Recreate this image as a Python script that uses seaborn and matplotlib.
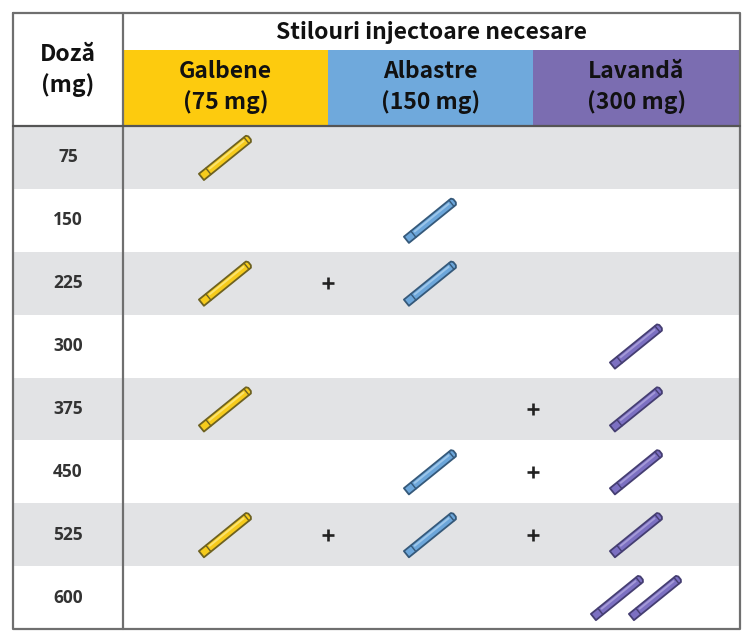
import numpy as np
import pandas as pd
import matplotlib
matplotlib.use("Agg")
import matplotlib.pyplot as plt
from matplotlib.patches import Polygon, Rectangle
from matplotlib.colors import ListedColormap
import seaborn as sns

# ---------------- data ----------------
doses = [75, 150, 225, 300, 375, 450, 525, 600]
yellow_pens = [1, 0, 1, 0, 1, 0, 1, 0]
blue_pens = [0, 1, 1, 0, 0, 1, 1, 0]
lavender_pens = [0, 0, 0, 1, 1, 1, 1, 2]
pen_names = ["Galbene", "Albastre", "Lavandă"]
pen_labels = ["(75 mg)", "(150 mg)", "(300 mg)"]
header_title = "Stilouri injectoare necesare"
dose_header = "Doză\n(mg)"

# ---------------- style ----------------
sns.set_theme(style="white")
plt.rcParams["font.family"] = ["Noto Sans CJK KR", "DejaVu Sans"]

head_colors = ["#FDCB0E", "#6FA9DC", "#7B6DB1"]
pen_fill = ["#F6CB1C", "#6CA6DA", "#7C70C2"]
pen_edge = ["#6E6220", "#35597A", "#453E72"]
pen_hi = ["#FBE36E", "#9CC6EA", "#A49AD8"]
row_gray = "#E2E3E5"
grid_col = "#6F6F6F"

W, H = 751, 641
fig = plt.figure(figsize=(W / 100, H / 100), dpi=100)

# layout (pixels)
XL, XD, XR = 13, 123, 740
col_edges = [123, 328, 533, 740]
YT, YB_band, YH, YB = 13, 50, 126, 629
n = len(doses)
rh = (YB - YH) / n

# ---- row shading via seaborn heatmap ----
shade = np.array([[1 if i % 2 == 0 else 0] for i in range(n)])
hax = fig.add_axes([XL / W, 1 - YB / H, (XR - XL) / W, (YB - YH) / H])
sns.heatmap(pd.DataFrame(shade, index=doses), ax=hax, cbar=False,
            cmap=ListedColormap(["#FFFFFF", row_gray]), vmin=0, vmax=1,
            xticklabels=False, yticklabels=False)
hax.set_axis_off()

# ---- overlay axes in pixel coordinates ----
ax = fig.add_axes([0, 0, 1, 1], facecolor="none")
ax.set_xlim(0, W)
ax.set_ylim(H, 0)
ax.set_axis_off()

# header colour bands
for i in range(3):
    ax.add_patch(Rectangle((col_edges[i], YB_band), col_edges[i + 1] - col_edges[i],
                           YH - YB_band, facecolor=head_colors[i], edgecolor="none", zorder=1))

# grid lines
lw = 1.6
ax.plot([XL, XR, XR, XL, XL], [YT, YT, YB, YB, YT], color=grid_col, lw=lw, zorder=3)
ax.plot([XD, XD], [YT, YB], color=grid_col, lw=lw, zorder=3)
ax.plot([XL, XR], [YH, YH], color="#555555", lw=lw, zorder=3)

# header text
hfs = 16.5
ax.text((XD + XR) / 2, 33, header_title, ha="center", va="center",
        fontsize=hfs, fontweight="bold", color="#111111", zorder=4)
ax.text((XL + XD) / 2, 70, dose_header, ha="center", va="center",
        fontsize=hfs, fontweight="bold", color="#111111", linespacing=1.4, zorder=4)
for i in range(3):
    cx = (col_edges[i] + col_edges[i + 1]) / 2
    ax.text(cx, 87, pen_names[i] + "\n" + pen_labels[i], ha="center",
            va="center", fontsize=hfs, fontweight="bold", color="#111111",
            linespacing=1.4, zorder=4)

# dose labels
for r, d in enumerate(doses):
    ax.text((XL + XD) / 2, YH + rh * (r + 0.5), str(d), ha="center", va="center",
            fontsize=12.5, fontweight="bold", color="#333333",
            family=["Open Sans", "DejaVu Sans"], zorder=4)


def draw_pen(cx, cy, k, L=62, Wd=8, ang=39):
    a = np.radians(ang)
    u = np.array([np.cos(a), -np.sin(a)])
    v = np.array([np.sin(a), np.cos(a)])
    c = np.array([cx, cy])

    def pt(s, t):
        return c + s * u + t * v

    body = [pt(-L / 2, -Wd / 2), pt(L / 2 - 1.5, -Wd / 2), pt(L / 2, -Wd / 4),
            pt(L / 2, Wd / 4), pt(L / 2 - 1.5, Wd / 2), pt(-L / 2, Wd / 2)]
    ax.add_patch(Polygon(body, closed=True, facecolor=pen_fill[k], edgecolor=pen_edge[k],
                         lw=1.3, joinstyle="round", zorder=5))
    # highlight stripe
    p1, p2 = pt(-L / 2 + 11, -Wd / 6), pt(L / 2 - 6, -Wd / 6)
    ax.plot([p1[0], p2[0]], [p1[1], p2[1]], color=pen_hi[k], lw=1.4,
            solid_capstyle="butt", zorder=6)
    # cap separation lines
    for s in (-L / 2 + 9, L / 2 - 4):
        q1, q2 = pt(s, -Wd / 2), pt(s, Wd / 2)
        ax.plot([q1[0], q2[0]], [q1[1], q2[1]], color=pen_edge[k], lw=1.0, zorder=6)


counts = [yellow_pens, blue_pens, lavender_pens]
plus_x, plus_y = [], []
for r in range(n):
    cy = YH + rh * (r + 0.5)
    for k in range(3):
        m = counts[k][r]
        if m == 0:
            continue
        cx = (col_edges[k] + col_edges[k + 1]) / 2
        offs = [0] if m == 1 else [-19, 19]
        for o in offs:
            draw_pen(cx + o, cy, k)
        if any(counts[j][r] for j in range(k)):
            plus_x.append(col_edges[k])
            plus_y.append(cy)

plus_df = pd.DataFrame({"x": plus_x, "y": plus_y})
sns.scatterplot(data=plus_df, x="x", y="y", marker="+", s=75, color="#222222",
                linewidth=1.9, ax=ax, zorder=7, legend=False)
ax.set_xlim(0, W)
ax.set_ylim(H, 0)
ax.set_axis_off()

fig.savefig("out.png", dpi=100, facecolor="white")
